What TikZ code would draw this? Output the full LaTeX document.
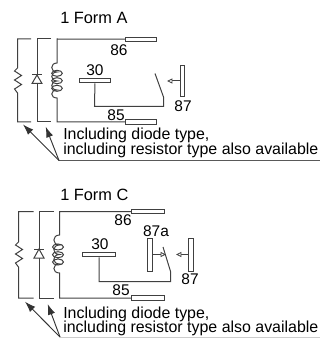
\documentclass[tikz,border=0pt]{standalone}
\usepackage{fontspec}
\setmainfont{Liberation Sans}
\usetikzlibrary{arrows.meta}
\tikzset{
  wire/.style={draw=black!75,line width=0.75pt},
  lead/.style={draw=black!80,line width=0.7pt,-{Latex[length=8pt,width=5.5pt]}},
  blade/.style={draw=black!75,fill=white,line width=0.7pt,inner sep=0pt,minimum width=23.25pt,minimum height=3.2pt},
  post/.style={draw=black!75,fill=white,line width=0.7pt,inner sep=0pt,minimum width=3.2pt,minimum height=23.25pt},
  lab/.style={inner sep=0pt,font=\fontsize{11.6pt}{13pt}\selectfont},
  note/.style={inner sep=0pt,anchor=base west,font=\fontsize{11.95pt}{14pt}\selectfont},
  stop/.style={draw=black!75,fill=white,line width=0.6pt}
}
\begin{document}
\begin{tikzpicture}[x=0.75pt,y=-0.75pt]
\useasboundingbox (0,0) rectangle (320,338);
% upper relay
\node[lab,anchor=base west,font=\fontsize{12.25pt}{14pt}\selectfont] (titleA) at (60,24) {1 Form A};
\node[blade] (a86) at (141,39.3) {};
\node[blade] (a85) at (141,122) {};
\node[blade] (a30) at (95,80.7) {};
\node[post] (a87) at (182.5,81) {};
\node[lab] (t86a) at (119,50) {86};
\node[lab] (t85a) at (116,115) {85};
\node[lab] (t30a) at (95,70) {30};
\node[lab] (t87a) at (183,106) {87};
\coordinate (rt) at (17.5,39);
\draw[wire] (31,39) -- (rt) -- (17.5,68) -- (14.5,71) -- (21.5,75.5) -- (14.5,80) -- (21.5,84.5) -- (14.5,89) -- (17.5,93)
  -- (17.5,122) -- (31,122);
\draw[wire] (51,39) -- (37,39) -- (37,122) -- (51,122);
\draw[wire,fill=white] (32,83.5) -- (42,83.5) -- (37,75) -- cycle;
\draw[wire] (32,75) -- (42,75);
\draw[wire] (a86) -- (57,39) -- (57,63) .. controls (50,63) and (50,72) .. (57,72)
  .. controls (50,72) and (50,81) .. (57,81) .. controls (50,81) and (50,90) .. (57,90)
  .. controls (50,90) and (50,98) .. (57,98) -- (57,122) -- (a85);
\draw[wire] (57,73.3) ellipse (5.3 and 3) (57,80.7) ellipse (5.3 and 3) (57,88.3) ellipse (5.3 and 3);
\coordinate (aHinge) at (163.5,97);
\draw[wire] (a30) -- (94.5,106.5) -- (163.5,106.5) -- (aHinge) -- (155,73.5);
\draw[wire] (a87) -- (172,81);
\draw[stop] (172,79) -- (168,81) -- (172,83) -- cycle;
\node[note] (noteA1) at (63,140) {Including diode type,};
\node[note] (noteA2) at (63,155) {including resistor type also available};
\coordinate (leadA) at (59,160.5);
\draw[draw=black!65,line width=1pt] (leadA) -- (320,160.5);
\draw[lead] (leadA) -- (23,124.5);
\draw[lead] (leadA) -- (45.7,126.7);
% lower relay
\node[lab,anchor=base west,font=\fontsize{12.25pt}{14pt}\selectfont] (titleC) at (60,200) {1 Form C};
\node[blade,minimum width=24.75pt] (c86) at (148,211.5) {};
\node[blade,minimum width=24.75pt] (c85) at (148,298) {};
\node[blade,minimum width=24.75pt] (c30) at (99,254.7) {};
\node[post,minimum height=24.75pt] (c87a) at (150,254.5) {};
\node[post,minimum height=24.75pt] (c87) at (191,254.5) {};
\node[lab] (t86c) at (123,220) {86};
\node[lab] (t85c) at (121,290) {85};
\node[lab] (t30c) at (100,244) {30};
\node[lab] (t87ac) at (156,231) {87a};
\node[lab] (t87c) at (190,279) {87};
\draw[wire] (33.5,211.5) -- (18.5,211.5) -- (18.5,242) -- (15.5,245) -- (22.5,249.5) -- (15.5,254) -- (22.5,258.5) -- (15.5,263) -- (18.5,267)
  -- (18.5,298) -- (33.5,298);
\draw[wire] (54,211.5) -- (39,211.5) -- (39,298) -- (54,298);
\draw[wire,fill=white] (34,258) -- (44,258) -- (39,249) -- cycle;
\draw[wire] (34,249) -- (44,249);
\draw[wire] (c86) -- (59.5,211.5) -- (59.5,235) .. controls (52,235) and (52,245) .. (59.5,245)
  .. controls (52,245) and (52,254.5) .. (59.5,254.5) .. controls (52,254.5) and (52,264) .. (59.5,264)
  .. controls (52,264) and (52,273) .. (59.5,273) -- (59.5,298) -- (c85);
\draw[wire] (58,247) ellipse (5.5 and 3) (58,254.7) ellipse (5.5 and 3) (58,262) ellipse (5.5 and 3);
\coordinate (cHinge) at (170.7,272);
\draw[wire] (c30) -- (99,281.7) -- (170.7,281.7) -- (cHinge) -- (163,247);
\draw[wire] (c87a) -- (161,254.5);
\draw[stop] (161,252.5) -- (165,254.5) -- (161,256.5) -- cycle;
\draw[wire] (c87) -- (181,254.5);
\draw[stop] (181,252.5) -- (177,254.5) -- (181,256.5) -- cycle;
\node[note] (noteC1) at (63,318) {Including diode type,};
\node[note] (noteC2) at (63,332.7) {including resistor type also available};
\coordinate (leadC) at (60,337);
\draw[draw=black!20,line width=0.7pt] (leadC) -- (320,337);
\draw[lead] (leadC) -- (25,301.7);
\draw[lead] (leadC) -- (47.7,304);
\end{tikzpicture}
\end{document}
